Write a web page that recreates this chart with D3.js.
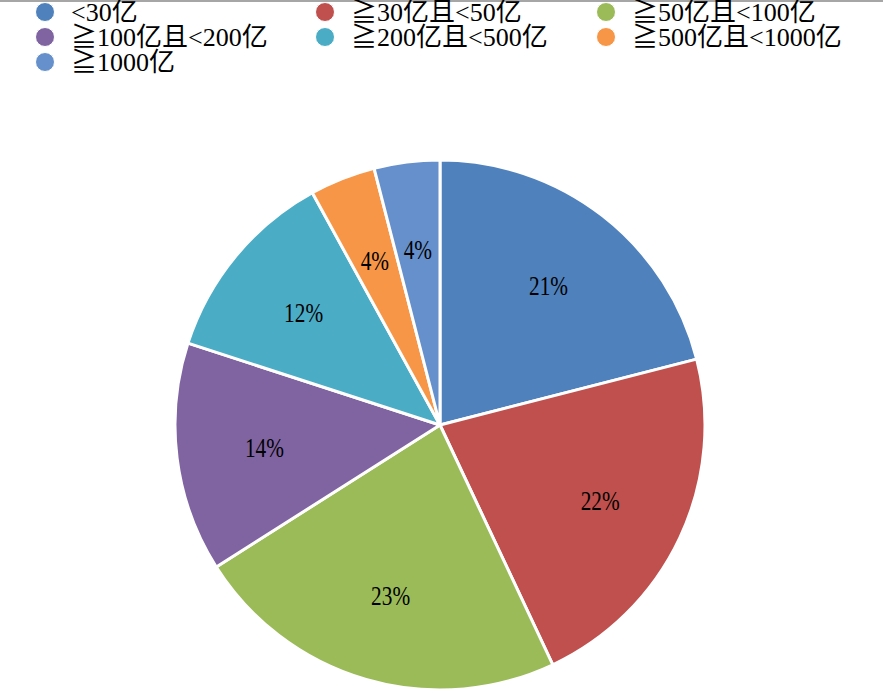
<!DOCTYPE html>
<html>
<head>
<meta charset="utf-8">
<script src="https://cdn.jsdelivr.net/npm/d3@7/dist/d3.min.js"></script>
<style>
  html, body { margin: 0; padding: 0; background: #fff; }
  svg { display: block; }
  text { font-family: "Liberation Serif", "DejaVu Serif", "Noto Sans CJK SC", serif; }
</style>
</head>
<body>
<svg id="chart" width="883" height="693"></svg>
<script>
// Share of companies by size band (percent)
const categories = ["<30亿", "≧30亿且<50亿", "≧50亿且<100亿", "≧100亿且<200亿", "≧200亿且<500亿", "≧500亿且<1000亿", "≧1000亿"];
const values = [21, 22, 23, 14, 12, 4, 4];
const colors = ["#4f81bd", "#c0504d", "#9bbb59", "#8064a2", "#4bacc6", "#f79646", "#6590cc"];

const svg = d3.select("#chart");
const W = 883, H = 693;

// thin grey rule along the top edge
svg.append("rect").attr("x", 0).attr("y", 0).attr("width", W).attr("height", 2).attr("fill", "#a6a6a6");

// legend: three columns, rows wrap left to right
const colX = [45, 325, 606];
const rowY = [12, 37, 62];
const legend = svg.append("g");
categories.forEach((c, i) => {
  const g = legend.append("g")
    .attr("transform", `translate(${colX[i % 3]},${rowY[Math.floor(i / 3)]})`);
  g.append("circle").attr("r", 9.5).attr("fill", colors[i])
    .attr("stroke", "#fff").attr("stroke-width", 1);
  g.append("text").attr("x", 26).attr("y", 0).attr("dy", "0.36em")
    .attr("font-size", 26).attr("fill", "#000")
    .text(c);
});

// pie
const cx = 440, cy = 425, R = 265;
const pie = d3.pie().sort(null).value(d => d)(values);
const arc = d3.arc().innerRadius(0).outerRadius(R);
const labelArc = d3.arc().innerRadius(R * 0.668).outerRadius(R * 0.668);

const g = svg.append("g").attr("transform", `translate(${cx},${cy})`);
g.selectAll("path.slice").data(pie).join("path")
  .attr("class", "slice")
  .attr("d", arc)
  .attr("fill", (d, i) => colors[i])
  .attr("stroke", "#fff")
  .attr("stroke-width", 3)
  .attr("stroke-linejoin", "round");

g.selectAll("text.lbl").data(pie).join("text")
  .attr("class", "lbl")
  .attr("transform", d => { const [x, y] = labelArc.centroid(d); return `translate(${x},${y}) scale(0.76,1)`; })
  .attr("text-anchor", "middle")
  .attr("dy", "0.36em")
  .attr("font-size", 28)
  .attr("fill", "#000")
  .text(d => d.data + "%");
</script>
</body>
</html>
